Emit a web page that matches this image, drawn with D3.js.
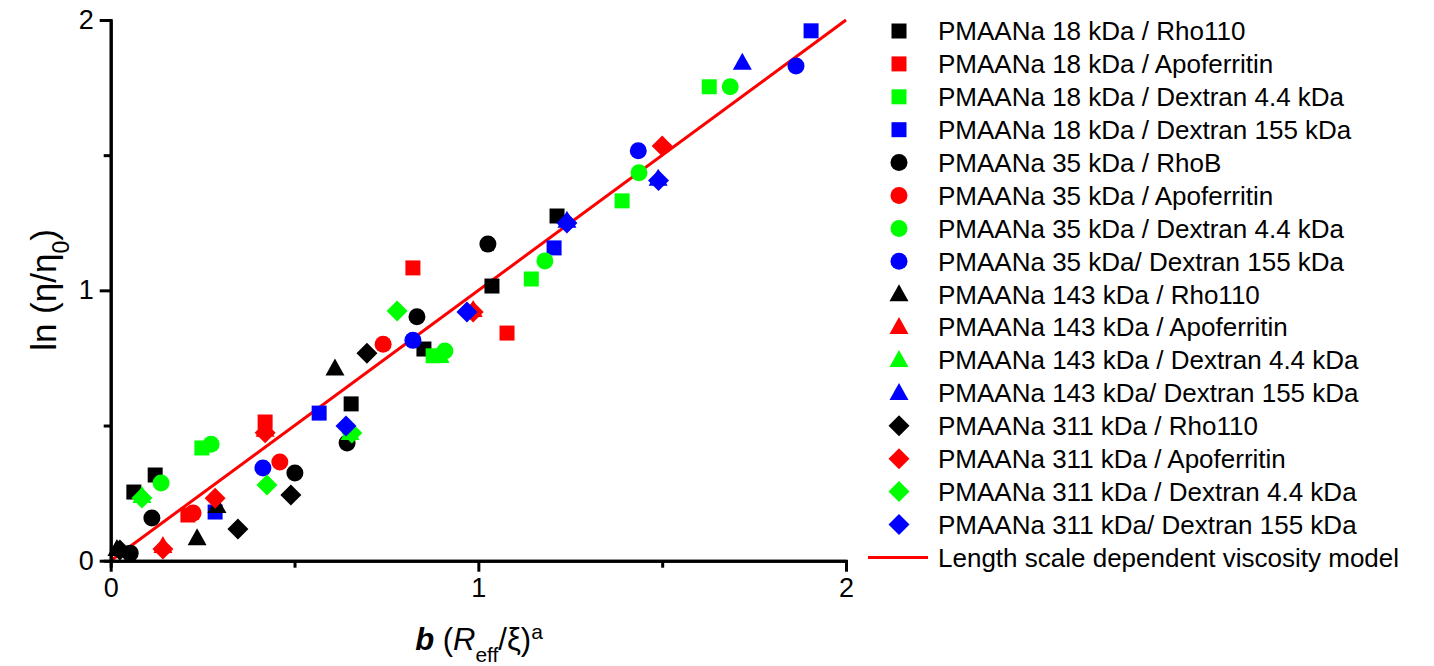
<!DOCTYPE html>
<meta charset="utf-8">
<title>ln(eta/eta0) vs b(Reff/xi)^a</title>
<style>
  body { margin: 0; background: #fff; }
  text { font-family: "Liberation Sans", Arial, sans-serif; }
</style>
<svg width="1434" height="666"></svg>
<script src="https://d3js.org/d3.v7.min.js"></script>
<script>

// data: [x, y] pairs per series
var pts18Rho110  = [[0.063,0.254],[0.121,0.317],[0.654,0.580],[0.852,0.783],[1.037,1.016],[1.214,1.275]];
var pts18Apo     = [[0.210,0.169],[0.420,0.513],[0.822,1.083],[1.078,0.842]];
var pts18Dex44   = [[0.248,0.417],[0.877,0.758],[1.144,1.042],[1.391,1.331],[1.628,1.753]];
var pts18Dex155  = [[0.284,0.180],[0.567,0.546],[1.206,1.157],[1.905,1.960]];
var pts35RhoB    = [[0.053,0.028],[0.112,0.158],[0.501,0.324],[0.643,0.435],[0.833,0.902],[1.026,1.171]];
var pts35Apo     = [[0.224,0.176],[0.460,0.365],[0.741,0.801]];
var pts35Dex44   = [[0.137,0.287],[0.273,0.431],[0.909,0.776],[1.181,1.109],[1.437,1.435],[1.685,1.753]];
var pts35Dex155  = [[0.414,0.343],[0.822,0.815],[1.435,1.516],[1.864,1.830]];
var pts143Rho110 = [[0.017,0.043],[0.235,0.083],[0.289,0.202],[0.610,0.711]];
var pts143Apo    = [[0.142,0.054],[0.420,0.484],[0.986,0.927]];
var pts143Dex44  = [[0.085,0.239],[0.651,0.472],[0.896,0.757]];
var pts143Dex155 = [[1.718,1.842],[1.241,1.257],[1.489,1.413]];
var pts311Rho110 = [[0.025,0.040],[0.346,0.117],[0.490,0.243],[0.697,0.767]];
var pts311Apo    = [[0.142,0.043],[0.284,0.231],[0.420,0.473],[0.986,0.920],[1.500,1.534]];
var pts311Dex44  = [[0.085,0.232],[0.425,0.280],[0.656,0.472],[0.779,0.924]];
var pts311Dex155 = [[0.640,0.498],[0.969,0.920],[1.241,1.249],[1.490,1.406]];

var seriesLabels = [
  "PMAANa 18 kDa / Rho110", "PMAANa 18 kDa / Apoferritin",
  "PMAANa 18 kDa / Dextran 4.4 kDa", "PMAANa 18 kDa / Dextran 155 kDa",
  "PMAANa 35 kDa / RhoB", "PMAANa 35 kDa / Apoferritin",
  "PMAANa 35 kDa / Dextran 4.4 kDa", "PMAANa 35 kDa/ Dextran 155 kDa",
  "PMAANa 143 kDa / Rho110", "PMAANa 143 kDa / Apoferritin",
  "PMAANa 143 kDa / Dextran 4.4 kDa", "PMAANa 143 kDa/ Dextran 155 kDa",
  "PMAANa 311 kDa / Rho110", "PMAANa 311 kDa / Apoferritin",
  "PMAANa 311 kDa / Dextran 4.4 kDa", "PMAANa 311 kDa/ Dextran 155 kDa"
];
var modelLabel = "Length scale dependent viscosity model";
var seriesShapes = ["square","square","square","square","circle","circle","circle","circle",
                    "triangle","triangle","triangle","triangle","diamond","diamond","diamond","diamond"];
var seriesColors = ["#000000","#ff0000","#00ff00","#0000ff"];

var modelX = [0, 2];
var modelY = [0, 2];

var xTicks = [0, 1, 2], xMinor = [0.5, 1.5];
var yTicks = [0, 1, 2], yMinor = [0.5, 1.5];

var allPts = [pts18Rho110, pts18Apo, pts18Dex44, pts18Dex155,
              pts35RhoB, pts35Apo, pts35Dex44, pts35Dex155,
              pts143Rho110, pts143Apo, pts143Dex44, pts143Dex155,
              pts311Rho110, pts311Apo, pts311Dex44, pts311Dex155];

var svg = d3.select("svg");

var x = d3.scaleLinear().domain([0, 2]).range([110.7, 846]);
var y = d3.scaleLinear().domain([0, 2]).range([560.7, 20]);

function shape(type) {
  // paths centred at 0,0
  if (type == "square") return "M-7.5,-7.5H7.5V7.5H-7.5Z";
  if (type == "circle") return d3.symbol(d3.symbolCircle, 227)();
  if (type == "triangle") return "M0,-10L9.5,7L-9.5,7Z";
  return "M0,-10.5L10.5,0L0,10.5L-10.5,0Z";
}

// model line
var line = d3.line().x(function(d) { return x(d[0]); }).y(function(d) { return y(d[1]); });
svg.append("path")
  .attr("d", line(d3.zip(modelX, modelY)))
  .attr("stroke", "#ff0000")
  .attr("stroke-width", 3)
  .attr("fill", "none");

// points
allPts.forEach(function(pts, i) {
  svg.append("g").selectAll("path")
    .data(pts)
    .enter().append("path")
      .attr("d", shape(seriesShapes[i]))
      .attr("transform", function(d) { return "translate(" + x(d[0]) + "," + y(d[1]) + ")"; })
      .attr("fill", seriesColors[i % 4]);
});

// axes
function styleAxis(g) {
  g.select(".domain").attr("stroke-width", 3);
  g.selectAll(".tick line").attr("stroke-width", 3);
  g.selectAll(".tick text").style("font-size", "27px")
    .style("font-family", "'Liberation Sans', Arial, sans-serif");
}

svg.append("g")
  .attr("transform", "translate(0," + y(0) + ")")
  .call(d3.axisBottom(x).tickValues(xMinor).tickSize(7).tickFormat(""))
  .call(styleAxis);
svg.append("g")
  .attr("transform", "translate(0," + y(0) + ")")
  .call(d3.axisBottom(x).tickValues(xTicks).tickSize(11).tickSizeOuter(0).tickPadding(6).tickFormat(d3.format("d")))
  .call(styleAxis);

svg.append("g")
  .attr("transform", "translate(" + x(0) + ",0)")
  .call(d3.axisLeft(y).tickValues(yMinor).tickSize(7).tickFormat(""))
  .call(styleAxis);
svg.append("g")
  .attr("transform", "translate(" + x(0) + ",0)")
  .call(d3.axisLeft(y).tickValues(yTicks).tickSize(11).tickSizeOuter(0).tickPadding(6).tickFormat(d3.format("d")))
  .call(styleAxis);

// axis titles
var yTitle = svg.append("text")
  .attr("transform", "translate(56,290)rotate(-90)")
  .attr("text-anchor", "middle")
  .style("font-size", "35px");
yTitle.append("tspan").text("ln (\u03b7/\u03b7");
yTitle.append("tspan").attr("baseline-shift", "sub").style("font-size", "23px").text("0");
yTitle.append("tspan").text(")");

var xTitle = svg.append("text")
  .attr("x", 479).attr("y", 650)
  .attr("text-anchor", "middle")
  .style("font-size", "31px");
xTitle.append("tspan").style("font-style", "italic").style("font-weight", "bold").text("b");
xTitle.append("tspan").text(" (");
xTitle.append("tspan").style("font-style", "italic").text("R");
xTitle.append("tspan").attr("baseline-shift", "sub").style("font-size", "21px").text("eff");
xTitle.append("tspan").text("/\u03be)");
xTitle.append("tspan").attr("baseline-shift", "super").style("font-size", "21px").text("a");

// legend
var legend = svg.append("g");
seriesLabels.forEach(function(lbl, i) {
  var ly = 31 + i * 32.9;
  legend.append("path")
    .attr("d", shape(seriesShapes[i]))
    .attr("transform", "translate(899," + ly + ")")
    .attr("fill", seriesColors[i % 4]);
  legend.append("text")
    .attr("x", 938).attr("y", ly).attr("dy", "0.36em")
    .style("font-size", "26px")
    .text(lbl);
});
var lyModel = 31 + 16 * 32.9;
legend.append("line")
  .attr("x1", 868).attr("x2", 928)
  .attr("y1", lyModel).attr("y2", lyModel)
  .attr("stroke", "#ff0000").attr("stroke-width", 3);
legend.append("text")
  .attr("x", 938).attr("y", lyModel).attr("dy", "0.36em")
  .style("font-size", "26px")
  .text(modelLabel);

</script>
